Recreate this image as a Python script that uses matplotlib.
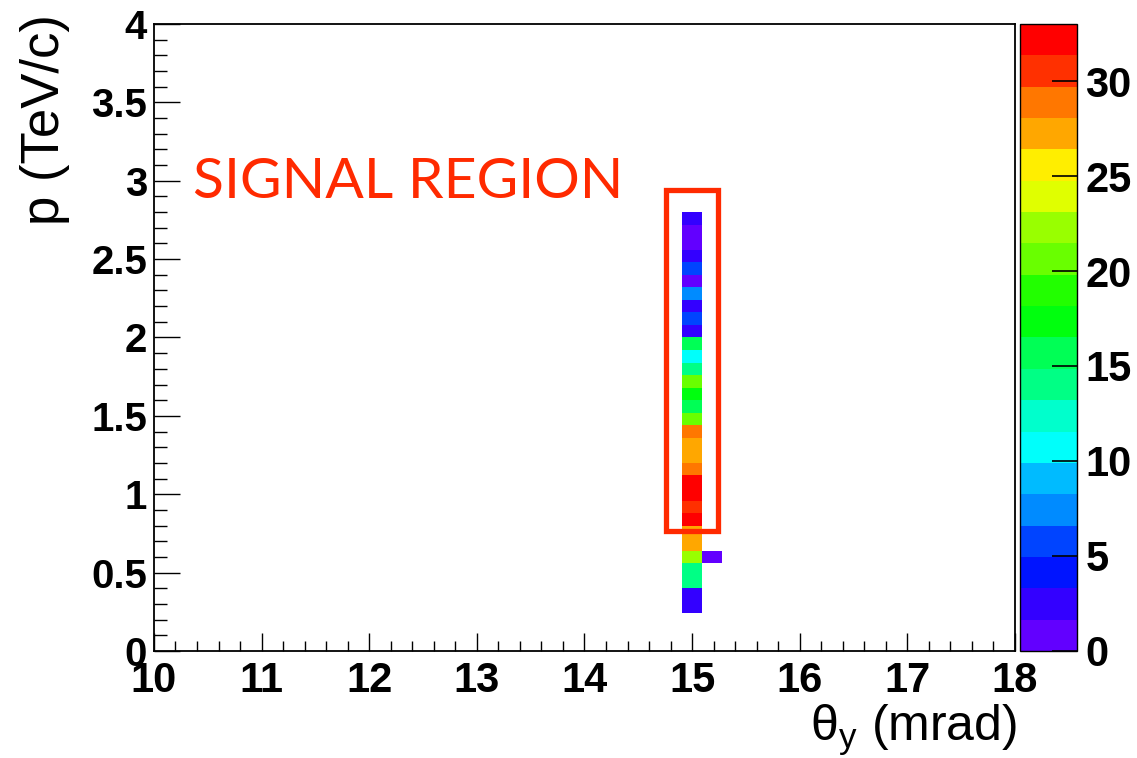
import numpy as np
import matplotlib
matplotlib.use("Agg")
import matplotlib.pyplot as plt
from matplotlib.colors import ListedColormap, BoundaryNorm
from matplotlib.patches import Rectangle
from matplotlib.ticker import MultipleLocator, FuncFormatter

# Counts in the theta_y = 15 mrad column, p bins of 0.08 TeV/c from 0.24 up to 2.80
column_counts = [3, 2, 14, 14, 22, 27, 28, 32, 31, 33, 32, 29, 27, 28, 29, 21,
                 16, 17, 20, 14, 11, 15, 2, 6, 3, 7, 1, 5, 2, 1, 1, 2]
column_first_bin = 3
# Single entry in the neighbouring theta bin
side_bin = 7
side_count = 1

x_ticks = [10, 11, 12, 13, 14, 15, 16, 17, 18]
y_ticks = [0, 0.5, 1, 1.5, 2, 2.5, 3, 3.5, 4]
z_ticks = [0, 5, 10, 15, 20, 25, 30]
z_max = 33

# ROOT "pretty" palette, 20 contours
palette = ["#6200ff", "#3300ff", "#0014ff", "#0044ff", "#008bff", "#00bbff",
           "#00fffb", "#00ffcc", "#00ff85", "#00ff55", "#00ff0e", "#22ff00",
           "#69ff00", "#99ff00", "#e0ff00", "#ffee00", "#ffa700", "#ff7700",
           "#ff3000", "#ff0000"]

plt.rcParams["font.family"] = ["Liberation Sans", "DejaVu Sans"]
plt.rcParams["mathtext.fontset"] = "custom"
plt.rcParams["mathtext.rm"] = "Liberation Sans"
plt.rcParams["mathtext.it"] = "Liberation Sans"

# histogram grid
n_ybins = 50
y_edges = np.linspace(0, 4, n_ybins + 1)
x_width = 0.186
x_edges = 15 - x_width / 2 + x_width * np.arange(3)
z = np.full((n_ybins, 2), np.nan)
z[column_first_bin:column_first_bin + len(column_counts), 0] = column_counts
z[side_bin, 1] = side_count

cmap = ListedColormap(palette)
cmap.set_over(palette[-1])
levels = np.linspace(0, z_max, len(palette) + 1)
norm = BoundaryNorm(levels, cmap.N)

fig = plt.figure(figsize=(11.37, 7.58), dpi=100)
ax = fig.add_axes([0.1354, 0.1412, 0.7573, 0.8271])
mesh = ax.pcolormesh(x_edges, y_edges, z, cmap=cmap, norm=norm)

ax.set_xlim(10, 18)
ax.set_ylim(0, 4)
ax.set_xticks(x_ticks)
ax.set_yticks(y_ticks)
ax.xaxis.set_minor_locator(MultipleLocator(0.2))
ax.yaxis.set_minor_locator(MultipleLocator(0.1))
ax.yaxis.set_major_formatter(FuncFormatter(lambda v, p: "%g" % v))
ax.tick_params(which="both", direction="in", top=False, right=False, width=1.0)
ax.tick_params(axis="x", which="major", length=13, pad=7, labelsize=30)
ax.tick_params(axis="x", which="minor", length=7)
ax.tick_params(axis="y", which="major", length=19, pad=5, labelsize=29)
ax.tick_params(axis="y", which="minor", length=9.5)
for lab in ax.get_xticklabels() + ax.get_yticklabels():
    lab.set_fontweight("bold")
for s in ax.spines.values():
    s.set_linewidth(1.3)

# signal region box and label
red = "#ff2a00"
ax.add_patch(Rectangle((14.754, 0.768), 15.237 - 14.754, 2.944 - 0.768,
                       fill=False, edgecolor=red, linewidth=3.8, zorder=5))
ax.text(10.36, 2.89, "SIGNAL REGION", color=red, fontsize=41,
        family=["Lato", "DejaVu Sans"], ha="left", va="baseline")

# axis titles
fig.text(45 / 1137, 1 - 14 / 758, "p (TeV/c)", rotation=90, fontsize=38,
         ha="center", va="top")
fig.text(1017 / 1137, 1 - 741 / 758, r"$\mathrm{\theta_y}$ (mrad)", fontsize=36,
         ha="right", va="baseline")

# colour bar
cax = fig.add_axes([0.8971, 0.1412, 0.0501, 0.8271])
cb = fig.colorbar(mesh, cax=cax, ticks=z_ticks)
cb.outline.set_linewidth(1.0)
cax.tick_params(direction="in", length=18, width=1.2, pad=6, labelsize=30)
cax.minorticks_off()
for lab in cax.get_yticklabels():
    lab.set_fontweight("bold")

fig.savefig("out.png", dpi=100, facecolor="white")
